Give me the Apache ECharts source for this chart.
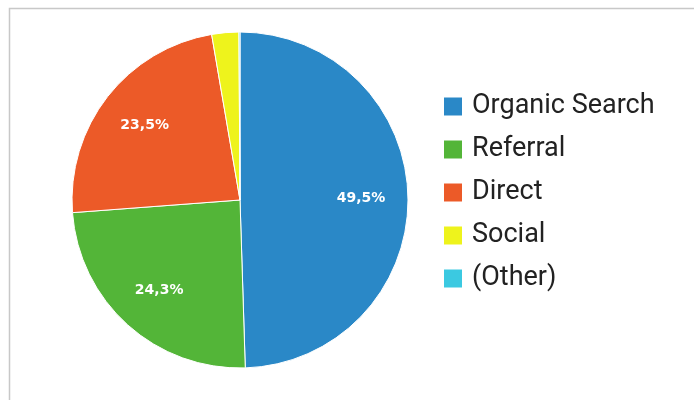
<!DOCTYPE html>
<html>
<head>
<meta charset="utf-8">
<script src="https://cdn.jsdelivr.net/npm/echarts@6/dist/echarts.min.js"></script>
<style>
html,body{margin:0;padding:0;background:#fff;}
#chart{width:694px;height:400px;}
</style>
</head>
<body>
<div id="chart"></div>
<script>
var categories = ['Organic Search', 'Referral', 'Direct', 'Social', '(Other)'];
var values = [49.5, 24.3, 23.5, 2.6, 0.1];
var colors = ['#2a88c7', '#53b538', '#ec5a28', '#eef31c', '#3bc9e1'];
var labelMin = 5;

var chart = echarts.init(document.getElementById('chart'), null, {renderer: 'canvas'});
var data = categories.map(function (c, i) {
  return {name: c, value: values[i], itemStyle: {color: colors[i]}};
});
var labelData = categories.map(function (c, i) {
  return {name: c, value: values[i]};
});
var fmt = function (p) {
  if (p.value < labelMin) return '';
  return p.value.toFixed(1).replace('.', ',') + '%';
};
chart.setOption({
  animation: false,
  graphic: [{
    type: 'rect',
    shape: {x: 9.5, y: 8.5, width: 720, height: 420},
    style: {fill: 'none', stroke: '#c8c8c8', lineWidth: 1.5},
    silent: true
  }],
  legend: {
    orient: 'vertical',
    left: 442,
    top: 93,
    padding: 0,
    itemWidth: 20,
    itemHeight: 20,
    itemGap: 16,
    icon: 'rect',
    data: categories,
    textStyle: {fontFamily: 'Roboto', fontSize: 27, color: '#222', padding: [0, 0, 0, 4]}
  },
  series: [{
    type: 'pie',
    center: [240, 200],
    radius: [0, 168],
    startAngle: 90,
    clockwise: true,
    label: {show: false},
    labelLine: {show: false},
    itemStyle: {borderColor: '#fff', borderWidth: 1},
    emphasis: {disabled: true},
    data: data
  }, {
    type: 'pie',
    center: [240, 200],
    radius: [68, 168],
    startAngle: 90,
    clockwise: true,
    silent: true,
    legendHoverLink: false,
    itemStyle: {color: 'rgba(0,0,0,0)'},
    label: {
      show: true,
      position: 'inside',
      formatter: fmt,
      color: '#fff',
      fontFamily: 'DejaVu Sans',
      fontWeight: 'bold',
      fontSize: 14
    },
    labelLine: {show: false},
    emphasis: {disabled: true},
    data: labelData
  }]
});
</script>
</body>
</html>
